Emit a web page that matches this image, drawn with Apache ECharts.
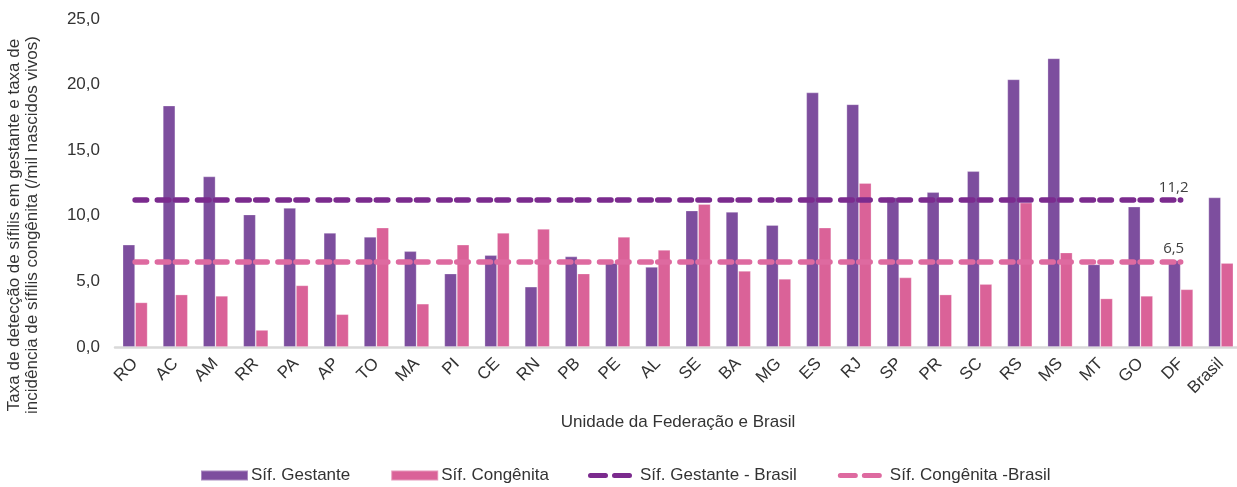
<!DOCTYPE html>
<html>
<head>
<meta charset="utf-8">
<script src="https://cdn.jsdelivr.net/npm/echarts@6/dist/echarts.min.js"></script>
<style>
  html, body { margin: 0; padding: 0; background: #fff; }
  #chart { width: 1237px; height: 487px; }
</style>
</head>
<body>
<div id="chart"></div>
<script>
// Unidades da Federação + Brasil
const ufs = ['RO','AC','AM','RR','PA','AP','TO','MA','PI','CE','RN','PB','PE','AL','SE','BA','MG','ES','RJ','SP','PR','SC','RS','MS','MT','GO','DF','Brasil'];

// Taxa de detecção de sífilis em gestante (/mil nascidos vivos)
const sifGestante = [7.8,18.4,13.0,10.1,10.6,8.7,8.4,7.3,5.6,7.0,4.6,6.9,6.4,6.1,10.4,10.3,9.3,19.4,18.5,11.4,11.8,13.4,20.4,22.0,6.3,10.7,6.6,11.4];

// Taxa de incidência de sífilis congênita (/mil nascidos vivos)
const sifCongenita = [3.4,4.0,3.9,1.3,4.7,2.5,9.1,3.3,7.8,8.7,9.0,5.6,8.4,7.4,10.9,5.8,5.2,9.1,12.5,5.3,4.0,4.8,11.0,7.2,3.7,3.9,4.4,6.4];

// Valores nacionais usados como linhas de referência
const brasilGestante = 11.2;
const brasilCongenita = 6.5;

// Eixo Y
const yTicks = [0, 5, 10, 15, 20, 25];

const fmt = v => v.toFixed(1).replace('.', ',');

const C_GEST = '#7D4E9E';
const C_CONG = '#DA6298';
const C_LINE_GEST = '#7B2B8E';
const C_LINE_CONG = '#DE6AA0';
const TEXT = '#333333';
const FONT = 'Liberation Sans, Arial, sans-serif';

// Traço longo duplo, com pontas arredondadas
const dashPattern = [11.5, 10.7, 11.5, 6.5];

// A linha vai do primeiro estado ao DF (penúltima categoria)
const firstUf = ufs[0];
const lastUf = ufs[ufs.length - 2];

function refLine(name, value, color) {
  return {
    name: name,
    type: 'line',
    data: [],
    z: 5,
    symbol: 'none',
    lineStyle: { color: color, width: 5.5, type: dashPattern, cap: 'round' },
    itemStyle: { color: color },
    markLine: {
      silent: true,
      symbol: ['none', 'none'],
      animation: false,
      lineStyle: { color: color, width: 5.5, type: dashPattern, cap: 'round' },
      emphasis: { disabled: true },
      label: {
        show: true,
        position: 'insideEndTop',
        align: 'center',
        distance: [7, 5],
        formatter: () => fmt(value),
        fontFamily: 'Open Sans, Noto Sans, sans-serif',
        fontSize: 15,
        color: '#404040'
      },
      data: [[
        { coord: [firstUf, value] },
        { coord: [lastUf, value] }
      ]]
    }
  };
}

const chart = echarts.init(document.getElementById('chart'), null, { renderer: 'canvas' });

chart.setOption({
  animation: false,
  backgroundColor: '#ffffff',
  textStyle: { fontFamily: FONT },
  grid: { left: 115, top: 19, width: 1126, height: 328, containLabel: false, outerBoundsMode: 'none' },
  legend: [
    {
      data: ['Síf. Gestante', 'Síf. Congênita'],
      left: 200,
      top: 467,
      padding: 0,
      itemWidth: 47,
      itemHeight: 10,
      itemGap: 40,
      icon: 'rect',
      textStyle: { fontFamily: FONT, fontSize: 17, color: TEXT, padding: [0, 0, 0, -2] },
      selectedMode: false
    },
    {
      data: ['Síf. Gestante - Brasil', 'Síf. Congênita -Brasil'],
      left: 588,
      top: 467,
      padding: 0,
      itemWidth: 44,
      itemHeight: 5,
      itemGap: 41,
      icon: 'path://M2.5,0 L17.5,0 A2.5,2.5 0 0 1 17.5,5 L2.5,5 A2.5,2.5 0 0 1 2.5,0 Z M26.5,0 L41.5,0 A2.5,2.5 0 0 1 41.5,5 L26.5,5 A2.5,2.5 0 0 1 26.5,0 Z',
      textStyle: { fontFamily: FONT, fontSize: 17, color: TEXT, padding: [0, 0, 0, 3] },
      selectedMode: false
    }
  ],
  xAxis: {
    type: 'category',
    data: ufs,
    name: 'Unidade da Federação e Brasil',
    nameLocation: 'middle',
    nameGap: 67,
    nameTextStyle: { fontFamily: FONT, fontSize: 17, color: TEXT },
    axisLine: { lineStyle: { color: '#D9D9D9', width: 2.5 } },
    axisTick: { show: false },
    axisLabel: {
      interval: 0,
      rotate: 45,
      margin: 14,
      fontFamily: FONT,
      fontSize: 17,
      color: TEXT
    }
  },
  yAxis: {
    type: 'value',
    min: yTicks[0],
    max: yTicks[yTicks.length - 1],
    interval: yTicks[1] - yTicks[0],
    name: 'Taxa de detecção de sífilis em gestante e taxa de\nincidência de sífilis congênita (/mil nascidos vivos)',
    nameLocation: 'middle',
    nameGap: 74,
    nameTextStyle: {
      fontFamily: FONT,
      fontSize: 17,
      lineHeight: 18,
      color: TEXT,
      padding: [0, 84, 0, 0]
    },
    splitLine: { show: false },
    axisLine: { show: false },
    axisTick: { show: false },
    axisLabel: {
      margin: 15,
      fontFamily: FONT,
      fontSize: 17,
      color: TEXT,
      formatter: v => fmt(v)
    }
  },
  series: [
    {
      name: 'Síf. Gestante',
      type: 'bar',
      data: sifGestante,
      barWidth: 12.5,
      barGap: '0%',
      itemStyle: { color: C_GEST, borderColor: 'rgba(255,255,255,0.35)', borderWidth: 0.8 }
    },
    {
      name: 'Síf. Congênita',
      type: 'bar',
      data: sifCongenita,
      barWidth: 12.5,
      barGap: '0%',
      itemStyle: { color: C_CONG, borderColor: 'rgba(255,255,255,0.35)', borderWidth: 0.8 }
    },
    refLine('Síf. Gestante - Brasil', brasilGestante, C_LINE_GEST),
    refLine('Síf. Congênita -Brasil', brasilCongenita, C_LINE_CONG)
  ]
});
</script>
</body>
</html>
